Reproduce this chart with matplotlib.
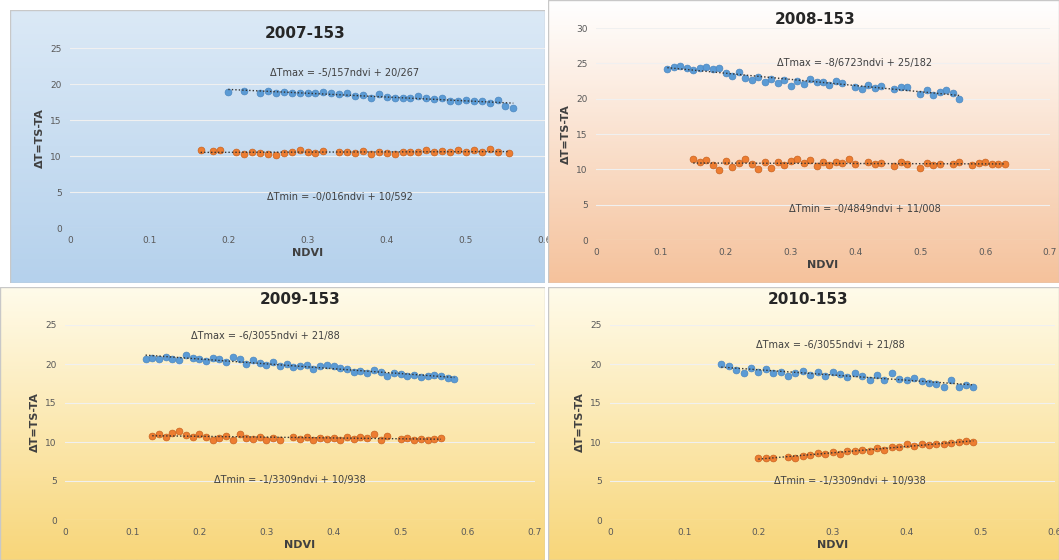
import numpy as np
import matplotlib.pyplot as plt
from matplotlib.colors import LinearSegmentedColormap

titles = ["2007-153", "2008-153", "2009-153", "2010-153"]
eq_max = ["ΔTmax = -5/157ndvi + 20/267", "ΔTmax = -8/6723ndvi + 25/182",
          "ΔTmax = -6/3055ndvi + 21/88", "ΔTmax = -6/3055ndvi + 21/88"]
eq_min = ["ΔTmin = -0/016ndvi + 10/592", "ΔTmin = -0/4849ndvi + 11/008",
          "ΔTmin = -1/3309ndvi + 10/938", "ΔTmin = -1/3309ndvi + 10/938"]

x1max = [0.20,0.22,0.24,0.25,0.26,0.27,0.28,0.29,0.30,0.31,0.32,0.33,0.34,0.35,0.36,0.37,0.38,0.39,0.40,0.41,0.42,0.43,0.44,0.45,0.46,0.47,0.48,0.49,0.50,0.51,0.52,0.53,0.54,0.55,0.56]
y1max = [18.9,19.0,18.8,19.0,18.8,18.9,18.8,18.7,18.8,18.7,18.9,18.8,18.6,18.7,18.3,18.5,18.0,18.6,18.2,18.0,18.1,18.0,18.3,18.0,17.9,18.1,17.6,17.7,17.8,17.6,17.7,17.4,17.8,17.0,16.6]
x1min = [0.165,0.18,0.19,0.21,0.22,0.23,0.24,0.25,0.26,0.27,0.28,0.29,0.30,0.31,0.32,0.34,0.35,0.36,0.37,0.38,0.39,0.40,0.41,0.42,0.43,0.44,0.45,0.46,0.47,0.48,0.49,0.50,0.51,0.52,0.53,0.54,0.555]
y1min = [10.8,10.7,10.8,10.5,10.3,10.6,10.4,10.3,10.2,10.4,10.5,10.8,10.6,10.4,10.7,10.5,10.6,10.4,10.7,10.3,10.5,10.4,10.3,10.6,10.5,10.6,10.8,10.5,10.7,10.6,10.9,10.5,10.8,10.6,11.0,10.5,10.4]

x2max = [0.11,0.12,0.13,0.14,0.15,0.16,0.17,0.18,0.19,0.20,0.21,0.22,0.23,0.24,0.25,0.26,0.27,0.28,0.29,0.30,0.31,0.32,0.33,0.34,0.35,0.36,0.37,0.38,0.40,0.41,0.42,0.43,0.44,0.46,0.47,0.48,0.50,0.51,0.52,0.53,0.54,0.55,0.56]
y2max = [24.2,24.5,24.6,24.3,24.0,24.4,24.5,24.2,24.4,23.6,23.2,23.8,22.9,22.6,23.0,22.4,22.8,22.2,22.6,21.8,22.5,22.1,22.8,22.3,22.4,22.0,22.5,22.2,21.7,21.4,22.0,21.5,21.8,21.3,21.6,21.7,20.6,21.2,20.5,21.0,21.2,20.8,19.9]
x2min = [0.15,0.16,0.17,0.18,0.19,0.20,0.21,0.22,0.23,0.24,0.25,0.26,0.27,0.28,0.29,0.30,0.31,0.32,0.33,0.34,0.35,0.36,0.37,0.38,0.39,0.40,0.42,0.43,0.44,0.46,0.47,0.48,0.50,0.51,0.52,0.53,0.55,0.56,0.58,0.59,0.60,0.61,0.62,0.63]
y2min = [11.4,11.0,11.3,10.6,9.9,11.2,10.4,10.9,11.5,10.7,10.0,11.1,10.2,11.0,10.6,11.2,11.4,10.9,11.3,10.5,11.0,10.6,11.1,10.9,11.4,10.8,11.0,10.7,10.9,10.5,11.0,10.7,10.2,10.9,10.6,10.8,10.7,11.0,10.6,10.9,11.0,10.8,10.7,10.7]

x3max = [0.12,0.13,0.14,0.15,0.16,0.17,0.18,0.19,0.20,0.21,0.22,0.23,0.24,0.25,0.26,0.27,0.28,0.29,0.30,0.31,0.32,0.33,0.34,0.35,0.36,0.37,0.38,0.39,0.40,0.41,0.42,0.43,0.44,0.45,0.46,0.47,0.48,0.49,0.50,0.51,0.52,0.53,0.54,0.55,0.56,0.57,0.58]
y3max = [20.7,20.8,20.6,20.9,20.7,20.5,21.1,20.8,20.6,20.4,20.8,20.7,20.3,20.9,20.6,20.0,20.5,20.1,19.9,20.2,19.8,20.0,19.6,19.7,19.9,19.4,19.8,19.9,19.7,19.5,19.3,19.0,19.1,18.9,19.2,19.0,18.5,18.9,18.7,18.5,18.6,18.3,18.4,18.6,18.5,18.2,18.1]
x3min = [0.13,0.14,0.15,0.16,0.17,0.18,0.19,0.20,0.21,0.22,0.23,0.24,0.25,0.26,0.27,0.28,0.29,0.30,0.31,0.32,0.34,0.35,0.36,0.37,0.38,0.39,0.40,0.41,0.42,0.43,0.44,0.45,0.46,0.47,0.48,0.50,0.51,0.52,0.53,0.54,0.55,0.56]
y3min = [10.8,11.0,10.7,11.2,11.4,10.9,10.6,11.0,10.7,10.2,10.5,10.8,10.3,11.0,10.5,10.4,10.6,10.3,10.5,10.2,10.6,10.4,10.7,10.3,10.5,10.4,10.5,10.3,10.6,10.4,10.7,10.5,11.0,10.3,10.8,10.4,10.5,10.3,10.4,10.3,10.4,10.5]

x4max = [0.15,0.16,0.17,0.18,0.19,0.20,0.21,0.22,0.23,0.24,0.25,0.26,0.27,0.28,0.29,0.30,0.31,0.32,0.33,0.34,0.35,0.36,0.37,0.38,0.39,0.40,0.41,0.42,0.43,0.44,0.45,0.46,0.47,0.48,0.49]
y4max = [20.0,19.7,19.2,18.9,19.5,19.0,19.3,18.8,19.0,18.5,18.9,19.1,18.6,19.0,18.4,19.0,18.7,18.3,18.8,18.5,18.0,18.6,18.0,18.9,18.1,17.9,18.2,17.8,17.6,17.4,17.0,18.0,17.1,17.3,17.0]
x4min = [0.20,0.21,0.22,0.24,0.25,0.26,0.27,0.28,0.29,0.30,0.31,0.32,0.33,0.34,0.35,0.36,0.37,0.38,0.39,0.40,0.41,0.42,0.43,0.44,0.45,0.46,0.47,0.48,0.49]
y4min = [8.0,8.0,7.9,8.1,8.0,8.2,8.3,8.6,8.4,8.7,8.5,8.9,8.8,9.0,8.9,9.2,9.0,9.3,9.4,9.7,9.5,9.8,9.6,9.7,9.8,9.9,10.0,10.1,10.0]

data = [(x1max,y1max,x1min,y1min),(x2max,y2max,x2min,y2min),(x3max,y3max,x3min,y3min),(x4max,y4max,x4min,y4min)]
xlims = [0.6,0.7,0.7,0.6]
ylims = [25,30,25,25]
W, H = 1059, 560
# panel background rectangles in pixels (x0, y0, x1, y1), y from top
panels = [(10,10,545,283),(548,0,1059,283),(0,287,545,560),(548,287,1059,560)]
bgs = [("#dbe9f6","#b5d1ec"),("#ffffff","#f5c29c"),("#fffbea","#f8d67a"),("#fffbea","#f8d67a")]
# plot areas in pixels (x0, ytop, x1, ybottom)
areas = [(70,48,545,228),(596,28,1050,240),(65,325,535,520),(610,325,1055,520)]
titlepos = [(305,33),(815,20),(300,300),(808,300)]
eqmax_pos = [(345,73),(855,63),(265,336),(830,345)]
eqmin_pos = [(340,197),(865,209),(290,480),(850,481)]

fig = plt.figure(figsize=(W/100,H/100), dpi=100)
def fx(px): return px/W
def fy(py): return 1-py/H
for i in range(4):
    x0,y0,x1,y1 = panels[i]
    bax = fig.add_axes([fx(x0),fy(y1),fx(x1-x0),(y1-y0)/H]); bax.set_axis_off()
    cmap = LinearSegmentedColormap.from_list("g", list(bgs[i]))
    grad = np.linspace(0,1,100).reshape(-1,1)
    bax.imshow(grad, aspect='auto', cmap=cmap, extent=[0,1,0,1], origin='upper')
    bax.add_patch(plt.Rectangle((0,0),1,1,fill=False,ec="#c8c8c8",lw=1,transform=bax.transAxes))
    a0,at,a1,ab = areas[i]
    ax = fig.add_axes([fx(a0),fy(ab),fx(a1-a0),(ab-at)/H])
    ax.patch.set_alpha(0)
    xa,ya,xb,yb = data[i]
    ax.scatter(xa,ya,s=24,c="#5b9bd5",edgecolors="#4a86c0",linewidths=0.5,zorder=3)
    ax.scatter(xb,yb,s=24,c="#ed7d31",edgecolors="#c8621f",linewidths=0.5,zorder=3)
    for xs,ys in ((xa,ya),(xb,yb)):
        p = np.polyfit(xs,ys,1)
        xx = np.array([min(xs),max(xs)])
        ax.plot(xx,np.polyval(p,xx),ls=(0,(1,1.5)),color="#333333",lw=1,zorder=4)
    ax.set_xlim(0,xlims[i]); ax.set_ylim(0,ylims[i])
    ax.set_xticks(np.arange(0,xlims[i]+0.01,0.1))
    ax.set_xticklabels(["0"]+[f"{v:.1f}" for v in np.arange(0.1,xlims[i]+0.01,0.1)])
    ax.set_yticks(np.arange(0,ylims[i]+1,5))
    ax.tick_params(labelsize=6.5,colors="#595959",length=0,pad=6)
    ax.grid(axis='y',color="#f0f0f0",lw=0.8)
    for s in ax.spines.values(): s.set_visible(False)
    ax.set_xlabel("NDVI",fontsize=8,fontweight='bold',color="#404040",labelpad=2)
    ax.set_ylabel("ΔT=TS-TA",fontsize=8,fontweight='bold',color="#404040",labelpad=4)
    tx,ty = titlepos[i]
    fig.text(fx(tx),fy(ty),titles[i],fontsize=11,fontweight='bold',color="#262626",ha='center',va='center')
    ex,ey = eqmax_pos[i]
    fig.text(fx(ex),fy(ey),eq_max[i],fontsize=7,color="#404040",ha='center',va='center')
    ex,ey = eqmin_pos[i]
    fig.text(fx(ex),fy(ey),eq_min[i],fontsize=7,color="#404040",ha='center',va='center')
fig.savefig("out.png",dpi=100)
